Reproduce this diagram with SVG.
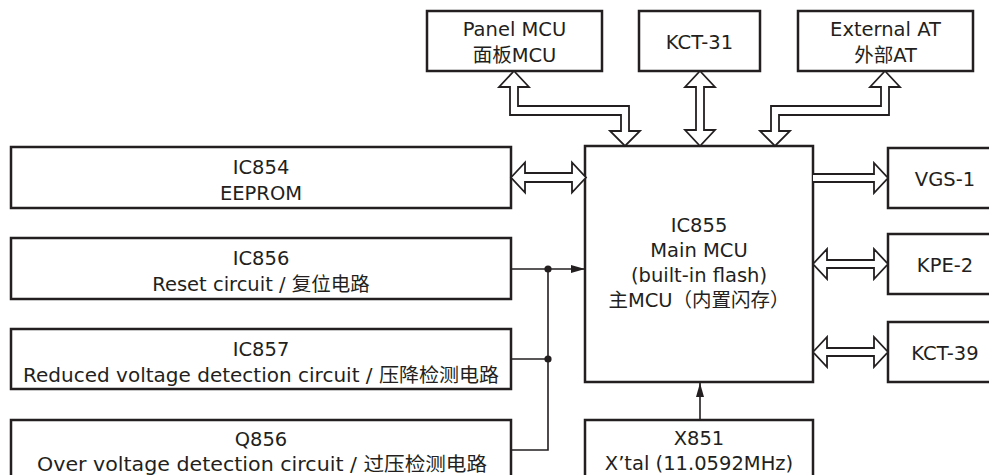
<svg xmlns="http://www.w3.org/2000/svg" width="989" height="475" viewBox="0 0 989 475">
<style>
.box{fill:#fff;stroke:#231f20;stroke-width:2.5}
.t{font-family:"DejaVu Sans","Noto Sans CJK SC",sans-serif;font-size:19.5px;fill:#231f20;text-anchor:middle}
.ha{fill:#fff;stroke:#231f20;stroke-width:1.8;stroke-linejoin:miter}
.ln{fill:none;stroke:#231f20;stroke-width:1.6}
.dot{fill:#231f20}
</style>
<defs>
<marker id="ah" viewBox="0 0 14 8" refX="14" refY="4" markerWidth="14" markerHeight="8" markerUnits="userSpaceOnUse" orient="auto">
<path d="M0,0 L14,4 L0,8 Z" fill="#231f20"/>
</marker>
</defs>
<rect width="989" height="475" fill="#fff"/>

<g id="panel-mcu"><rect class="box" x="427" y="11" width="175" height="60"/><text class="t" x="514.5" y="36">Panel MCU</text><text class="t" x="514.5" y="62">面板MCU</text></g>
<g id="kct-31"><rect class="box" x="639" y="11" width="121" height="60"/><text class="t" x="699.5" y="49">KCT-31</text></g>
<g id="external-at"><rect class="box" x="798" y="11" width="175" height="60"/><text class="t" x="885.5" y="36">External AT</text><text class="t" x="885.5" y="62">外部AT</text></g>

<g id="ic854"><rect class="box" x="11" y="147" width="500" height="61"/><text class="t" x="261" y="174">IC854</text><text class="t" x="261" y="200">EEPROM</text></g>
<g id="ic856"><rect class="box" x="11" y="238" width="500" height="61"/><text class="t" x="261" y="265">IC856</text><text class="t" x="261" y="291">Reset circuit / 复位电路</text></g>
<g id="ic857"><rect class="box" x="11" y="329" width="500" height="60"/><text class="t" x="261" y="356">IC857</text><text class="t" x="261" y="382" textLength="476" lengthAdjust="spacingAndGlyphs">Reduced voltage detection circuit / 压降检测电路</text></g>
<g id="q856"><rect class="box" x="11" y="420" width="500" height="70"/><text class="t" x="261" y="446">Q856</text><text class="t" x="262" y="471" textLength="450" lengthAdjust="spacingAndGlyphs">Over voltage detection circuit / 过压检测电路</text></g>

<g id="ic855"><rect class="box" x="585" y="146" width="228" height="236"/><text class="t" x="699" y="232">IC855</text><text class="t" x="699" y="257">Main MCU</text><text class="t" x="699" y="282">(built-in flash)</text><text class="t" x="699" y="307">主MCU（内置闪存）</text></g>
<g id="x851"><rect class="box" x="585" y="420" width="228" height="70"/><text class="t" x="699" y="445">X851</text><text class="t" x="699" y="470">X’tal (11.0592MHz)</text></g>

<g id="vgs-1"><rect class="box" x="888" y="148" width="115" height="60"/><text class="t" x="945" y="186">VGS-1</text></g>
<g id="kpe-2"><rect class="box" x="888" y="234" width="115" height="60"/><text class="t" x="945" y="272">KPE-2</text></g>
<g id="kct-39"><rect class="box" x="888" y="322" width="115" height="60"/><text class="t" x="945" y="360">KCT-39</text></g>

<g id="connectors">
<path class="ha" d="M514,71 L529,87 L518,87 L518,106 L629,106 L629,131 L640,131 L625,146 L610,131 L621,131 L621,115 L510,115 L510,87 L499,87 Z"/>
<path class="ha" d="M700,71 L715,87 L704,87 L704,130 L715,130 L700,146 L685,130 L696,130 L696,87 L685,87 Z"/>
<path class="ha" d="M885,71 L900,87 L889,87 L889,115 L779,115 L779,131 L790,131 L775,146 L760,131 L771,131 L771,106 L881,106 L881,87 L870,87 Z"/>
<path class="ha" d="M511,177.5 L525,162.5 L525,173 L572,173 L572,162.5 L586,177.5 L572,192.5 L572,182 L525,182 L525,192.5 Z"/>
<path class="ha" d="M813,174 L874,174 L874,163 L888,178 L874,193 L874,182 L813,182"/>
<path class="ha" d="M813,264 L827,249 L827,260 L874,260 L874,249 L888,264 L874,279 L874,268 L827,268 L827,279 Z"/>
<path class="ha" d="M813,352 L827,337 L827,348 L874,348 L874,337 L888,352 L874,367 L874,356 L827,356 L827,367 Z"/>
<line class="ln" x1="511" y1="269" x2="585" y2="269" marker-end="url(#ah)"/>
<polyline class="ln" points="511,359 548,359"/>
<polyline class="ln" points="511,450 548,450 548,269"/>
<circle class="dot" cx="548" cy="269" r="3.6"/>
<circle class="dot" cx="548" cy="359" r="3.6"/>
<line class="ln" x1="700" y1="420" x2="700" y2="383" marker-end="url(#ah)"/>
</g>
</svg>
